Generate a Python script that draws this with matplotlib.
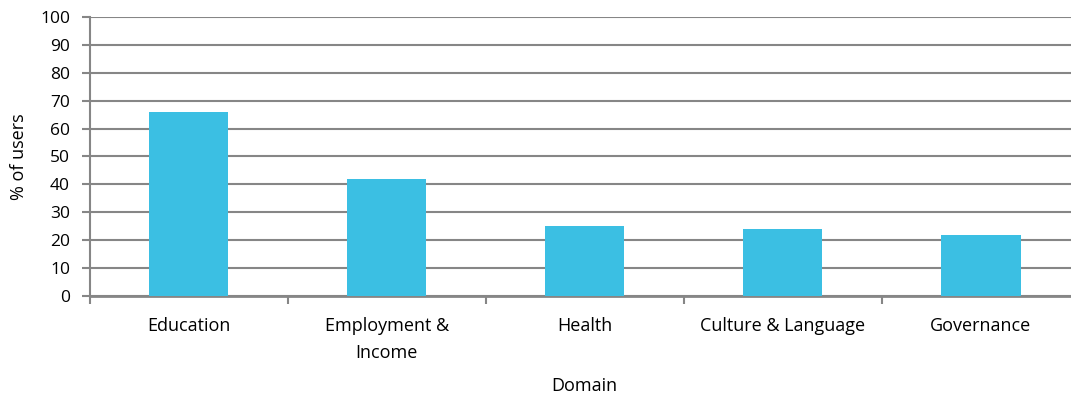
import numpy as np
import matplotlib.pyplot as plt

domains = ["Education", "Employment &\nIncome", "Health", "Culture & Language", "Governance"]
users_pct = [66, 42, 25, 24, 22]
y_ticks = list(range(0, 101, 10))

plt.rcParams['font.family'] = ['Open Sans', 'DejaVu Sans']
grey = "#868686"

fig = plt.figure(figsize=(10.71, 3.94), dpi=100)
# plot area runs slightly past the right edge of the figure
ax = fig.add_axes([0.0836, 0.249, 0.9248, 0.708])

x = np.arange(len(domains))
ax.bar(x, users_pct, width=0.40, color="#3BBFE3", zorder=3)

ax.set_xlim(-0.5, len(domains) - 0.5)
ax.set_ylim(0, 100)
ax.set_yticks(y_ticks)
ax.yaxis.grid(True, color=grey, linewidth=1.5, zorder=0)

# category labels at centres, tick marks on the boundaries
ax.set_xticks(x)
ax.set_xticklabels(domains, fontsize=13, linespacing=1.65, va="top")
ax.set_xticks(np.arange(-0.5, len(domains)), minor=True)
ax.tick_params(axis="x", which="major", length=0, pad=15)
ax.tick_params(axis="x", which="minor", length=6, width=1.5, color=grey, direction="out")
ax.tick_params(axis="y", length=6, width=1.5, color=grey, labelsize=12.5, pad=8)

for side in ["top", "right"]:
    ax.spines[side].set_visible(False)
ax.spines["left"].set_color(grey)
ax.spines["left"].set_linewidth(1.5)
ax.spines["bottom"].set_color(grey)
ax.spines["bottom"].set_linewidth(2)

ax.set_xlabel("Domain", fontsize=13)
ax.xaxis.set_label_coords((584 - 89.5) / (1080 - 89.5), -0.29)
ax.set_ylabel("% of users", fontsize=13)
ax.yaxis.set_label_coords(-0.062, 0.5)

fig.savefig("out.png", dpi=100)
